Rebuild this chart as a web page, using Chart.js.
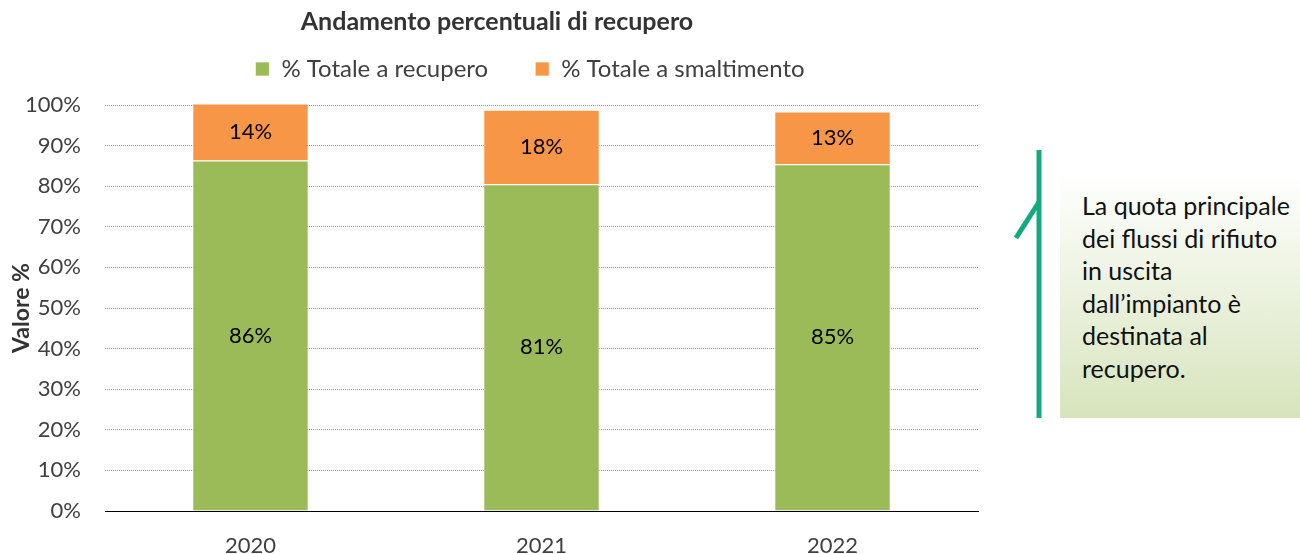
<!DOCTYPE html>
<html><head><meta charset="utf-8">
<script src="https://cdn.jsdelivr.net/npm/chart.js@4"></script>
<style>
html,body{margin:0;padding:0;background:#fff;}
#wrap{position:relative;width:1300px;height:554px;overflow:hidden;}
#c{position:absolute;left:0;top:0;}
.note{position:absolute;left:1060px;top:170px;width:240px;height:248px;background:linear-gradient(to bottom,#ffffff 0%,#d7e4bd 100%);}
.note p{margin:0;position:absolute;left:22px;top:19px;font:25px Lato, sans-serif;line-height:32.5px;color:#111;white-space:nowrap;}
svg{position:absolute;left:0;top:0;}
</style></head>
<body><div id="wrap"><canvas id="c" width="1300" height="554"></canvas>
<div class="note"><p>La quota principale<br>dei flussi di rifiuto<br>in uscita<br>dall’impianto è<br>destinata al<br>recupero.</p></div>
<svg width="1300" height="554"><line x1="1039" y1="150" x2="1039" y2="418" stroke="#14a97e" stroke-width="5"/><line x1="1016" y1="238" x2="1039" y2="202" stroke="#14a97e" stroke-width="5"/></svg>
</div>
<script>
const categories = ['2020', '2021', '2022'];
const recupero = [86.3, 80.5, 85.4];
const smaltimento = [14.1, 18.3, 13.0];
const seriesNames = ['% Totale a recupero', '% Totale a smaltimento'];
const titleText = 'Andamento percentuali di recupero';
const yTitle = 'Valore %';

const FONT = 'Lato';
const TXT = '#404040';

const nudge = {
  id: 'nudge',
  afterLayout(chart) {
    const L = chart.legend;
    if (L) { L.left += 41; L.right += 41; L.top -= 14; L.bottom -= 14; }
    const T = chart.titleBlock;
    if (T) { T.left += 8; T.right += 8; }
  }
};

const barLabels = {
  id: 'barLabels',
  afterDatasetsDraw(chart) {
    const ctx = chart.ctx;
    ctx.save();
    ctx.font = '22px ' + FONT;
    ctx.fillStyle = '#000';
    ctx.textAlign = 'center';
    ctx.textBaseline = 'middle';
    chart.data.datasets.forEach((ds, i) => {
      const meta = chart.getDatasetMeta(i);
      meta.data.forEach((el, j) => {
        const p = el.getProps(['x', 'y', 'base'], true);
        ctx.fillText(Math.round(ds.data[j]) + '%', p.x, (p.y + p.base) / 2);
      });
    });
    ctx.restore();
  }
};

new Chart(document.getElementById('c'), {
  type: 'bar',
  data: {
    labels: categories,
    datasets: [
      { label: seriesNames[0], data: recupero, backgroundColor: '#9bbb59', borderColor: 'rgba(255,255,255,0.7)', borderWidth: 1, clip: false },
      { label: seriesNames[1], data: smaltimento, backgroundColor: '#f79646', borderColor: 'rgba(255,255,255,0.7)', borderWidth: 1, clip: false }
    ]
  },
  options: {
    responsive: false,
    animation: false,
    devicePixelRatio: 1,
    categoryPercentage: 1,
    barPercentage: 0.4,
    layout: { padding: { left: 0, right: 322, top: 0, bottom: 0 } },
    plugins: {
      title: { display: true, text: titleText, color: '#333', font: { family: FONT, size: 25, weight: 'bold' }, padding: { top: 7, bottom: -13 } },
      legend: {
        display: true,
        labels: { color: TXT, font: { family: FONT, size: 24 }, boxWidth: 14, boxHeight: 14, padding: 47 }
      },
      tooltip: { enabled: false }
    },
    scales: {
      x: {
        stacked: true,
        grid: { display: false, drawTicks: false },
        border: { display: true, color: '#000', width: 1 },
        ticks: { color: TXT, font: { family: FONT, size: 22, lineHeight: 1 }, padding: 24 },
        afterFit: s => { s.height = 43; }
      },
      y: {
        stacked: true,
        min: 0, max: 100,
        ticks: { stepSize: 10, color: TXT, font: { family: FONT, size: 22 }, padding: 24, callback: v => v + '%' },
        grid: { drawTicks: false, color: c => c.tick && c.tick.value === 0 ? 'rgba(0,0,0,0)' : '#9a9a9a', lineWidth: 1 },
        border: { display: false, dash: [1, 1] },
        title: { display: true, text: yTitle, color: '#333', font: { family: FONT, size: 23, weight: 'bold' }, padding: { top: 8, bottom: 0 } },
        afterFit: s => { s.width = 105; }
      }
    }
  },
  plugins: [nudge, barLabels]
});
</script>
</body></html>
